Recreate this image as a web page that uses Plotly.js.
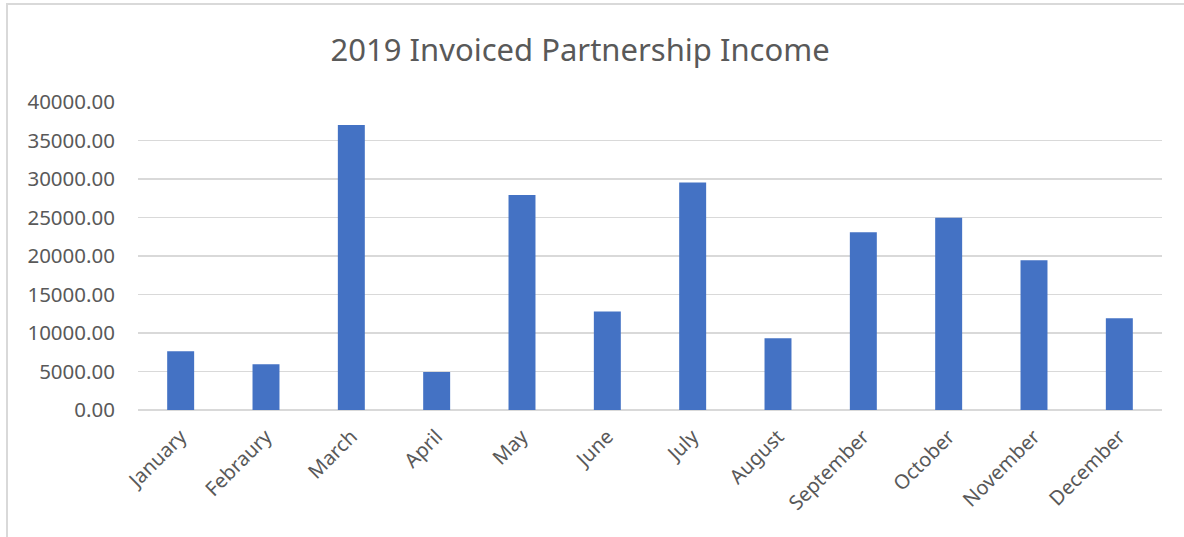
<!DOCTYPE html>
<html>
<head>
<meta charset="utf-8">
<script src="https://cdn.plot.ly/plotly-3.0.1.min.js"></script>
<style>
  html, body { margin: 0; padding: 0; background: #fff; overflow: hidden; }
  #frame { position: absolute; left: 6px; top: 3px; width: 1300px; height: 700px;
           border-top: 2px solid #d9d9d9; border-left: 2px solid #d9d9d9; box-sizing: border-box; }
  #chart { position: absolute; left: 0; top: 0; width: 1184px; height: 537px; }
</style>
</head>
<body>
<div id="frame"></div>
<div id="chart"></div>
<script>
const months = ["January", "Febraury", "March", "April", "May", "June",
                "July", "August", "September", "October", "November", "December"];
const income = [7630, 5940, 37000, 4940, 27910, 12780, 29550, 9320, 23100, 24960, 19460, 11920];
const yTicks = [0, 5000, 10000, 15000, 20000, 25000, 30000, 35000, 40000];
const chartTitle = "2019 Invoiced Partnership Income";

const FONT = "Noto Sans, Open Sans, sans-serif";
const TEXT = "#595959";

Plotly.newPlot("chart", [{
  type: "bar",
  x: months,
  y: income,
  marker: { color: "#4472C4", line: { width: 0 } },
  hoverinfo: "x+y"
}], {
  width: 1184,
  height: 537,
  paper_bgcolor: "rgba(0,0,0,0)",
  plot_bgcolor: "rgba(0,0,0,0)",
  margin: { l: 138, r: 22, t: 102, b: 127 },
  bargap: 0.684,
  showlegend: false,
  title: {
    text: chartTitle,
    font: { family: FONT, size: 31, color: TEXT },
    xref: "container", yref: "container",
    x: 0.49, xanchor: "center",
    y: 1 - 50 / 537, yanchor: "middle"
  },
  xaxis: {
    type: "category",
    tickangle: -45,
    tickfont: { family: FONT, size: 20, color: TEXT },
    showgrid: false,
    showline: false,
    ticks: "",
    ticklabelstandoff: 10
  },
  yaxis: {
    range: [0, 40000],
    tickvals: yTicks,
    tickformat: ".2f",
    tickfont: { family: FONT, size: 20.5, color: TEXT },
    showgrid: true,
    gridcolor: "#d9d9d9",
    gridwidth: 1.5,
    zeroline: true,
    zerolinecolor: "#d9d9d9",
    zerolinewidth: 1.5,
    showline: false,
    ticks: "",
    ticklabelstandoff: 22
  }
}, { displayModeBar: false, staticPlot: true });
</script>
</body>
</html>
